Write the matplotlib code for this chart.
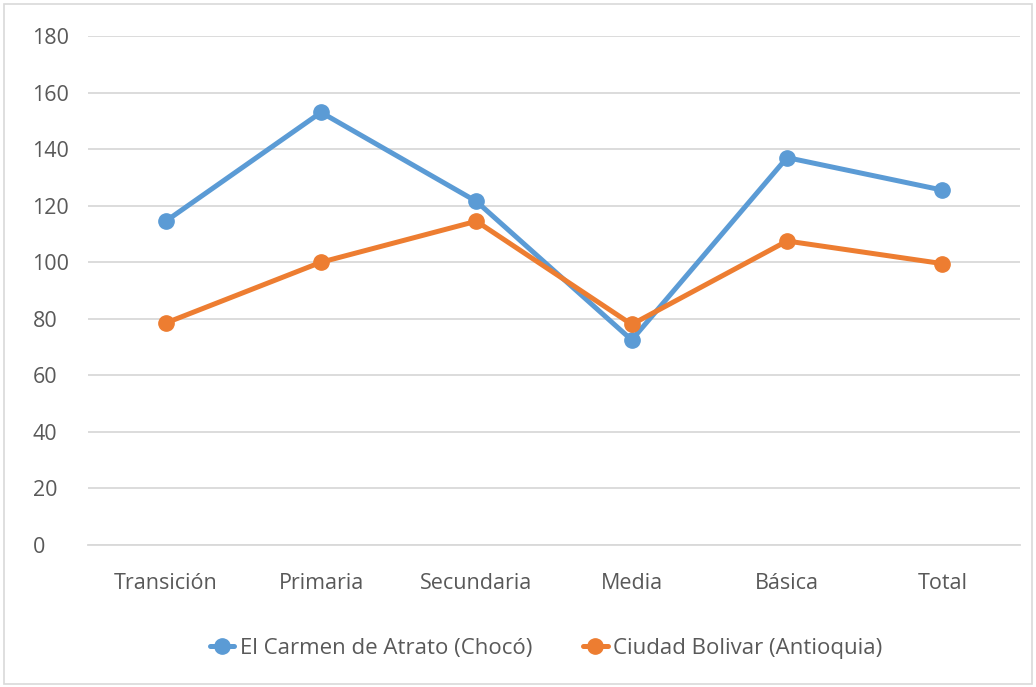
import matplotlib
matplotlib.use("Agg")
import matplotlib.pyplot as plt
from matplotlib.patches import Rectangle

# Data
categories = ["Transición", "Primaria", "Secundaria", "Media", "Básica", "Total"]
carmen = [114.5, 153, 121.5, 72.5, 137, 125.5]
bolivar = [78.5, 100, 114.5, 78, 107.5, 99.5]

plt.rcParams["font.family"] = ["Open Sans", "DejaVu Sans"]

fig = plt.figure(figsize=(10.36, 6.87), dpi=100)
ax = fig.add_axes([0.085, 0.2067, 0.8996, 0.7409])

x = range(len(categories))
ax.plot(x, carmen, color="#5B9BD5", lw=3.6, marker="o", ms=11,
        label="El Carmen de Atrato (Chocó)", solid_capstyle="round")
ax.plot(x, bolivar, color="#ED7D31", lw=3.6, marker="o", ms=11,
        label="Ciudad Bolivar (Antioquia)", solid_capstyle="round")

ax.set_xlim(-0.5, len(categories) - 0.5)
ax.set_ylim(0, 180)
ax.set_yticks(range(0, 181, 20))
ax.set_xticks(list(x))
ax.set_xticklabels(categories)
ax.yaxis.grid(True, color="#D9D9D9", lw=1.3)
ax.set_axisbelow(True)
for s in ["top", "right", "left"]:
    ax.spines[s].set_visible(False)
ax.spines["bottom"].set_color("#D9D9D9")
ax.spines["bottom"].set_linewidth(1.3)
ax.tick_params(length=0, labelsize=15.5, labelcolor="#595959")
ax.tick_params(axis="y", pad=40)
ax.tick_params(axis="x", pad=20)
for lbl in ax.get_yticklabels():
    lbl.set_horizontalalignment("left")

fig.legend(loc="center", bbox_to_anchor=(0.527, 0.056), ncol=2, frameon=False,
           fontsize=16, labelcolor="#595959", handlelength=1.1, handletextpad=0.25,
           columnspacing=2.3)

# light border around the chart area
fig.patches.append(Rectangle((0.004, 0.004), 0.992, 0.99, transform=fig.transFigure,
                             fill=False, edgecolor="#D9D9D9", lw=1.2))

fig.savefig("out.png", dpi=100)
